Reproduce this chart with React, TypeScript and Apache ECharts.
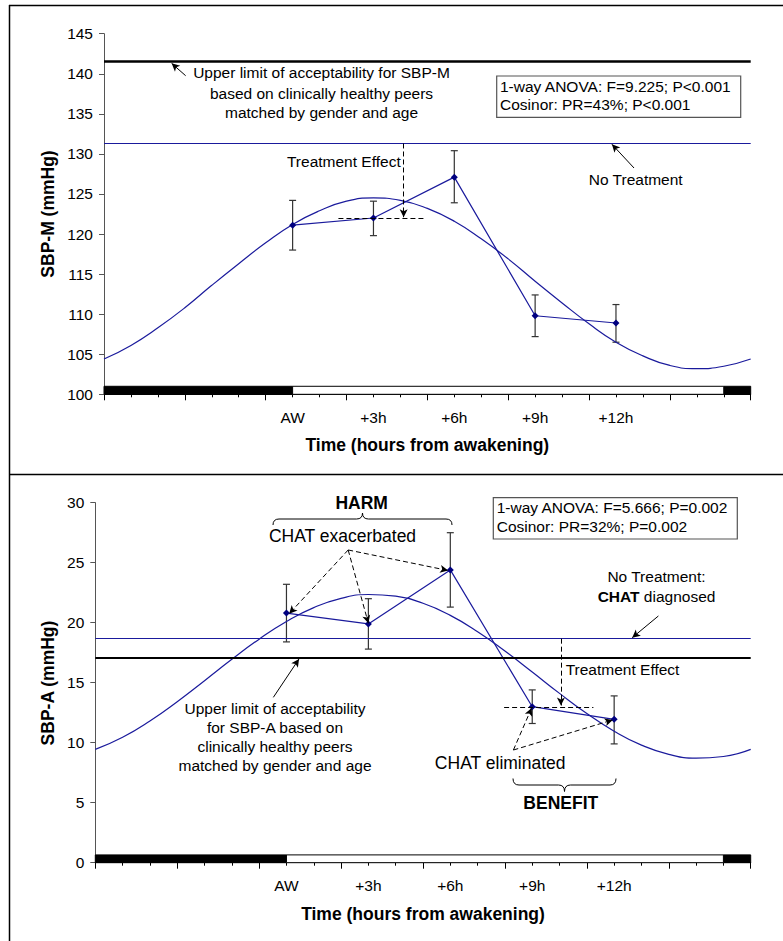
import React, { useEffect, useRef } from "react";
import * as echarts from "echarts";

// ---------- data ----------
const timeLabels = ["AW", "+3h", "+6h", "+9h", "+12h"];
const timeHours = [7, 10, 13, 16, 19];

// SBP-M (top panel)
const sbpMMean = [121.1, 122.0, 127.1, 109.8, 108.9];
const sbpMLow = [118.0, 119.8, 123.9, 107.2, 106.5];
const sbpMHigh = [124.2, 124.1, 130.4, 112.4, 111.2];
const curveHours = [0, 1, 2, 3, 4, 5, 6, 7, 8, 9, 10, 11, 12, 13, 14, 15, 16, 17, 18, 19, 20, 21, 22, 23, 24];
const sbpMCosinor = [104.4, 106.1, 108.3, 110.8, 113.6, 116.3, 118.9, 121.2, 122.9, 124.1, 124.5, 124.2, 123.2, 121.6, 119.4, 116.9, 114.1, 111.4, 108.8, 106.5, 104.8, 103.6, 103.2, 103.5, 104.4];
const sbpMUpperLimit = 141.6;
const sbpMNoTreatment = 131.3;

// SBP-A (bottom panel)
const sbpAMean = [20.8, 19.9, 24.4, 13.0, 11.95];
const sbpALow = [18.4, 17.8, 21.3, 11.6, 9.9];
const sbpAHigh = [23.2, 22.0, 27.5, 14.4, 13.9];
const sbpACosinor = [9.44, 10.45, 11.81, 13.42, 15.17, 16.95, 18.63, 20.1, 21.26, 22.03, 22.35, 22.21, 21.62, 20.61, 19.25, 17.64, 15.89, 14.11, 12.43, 10.96, 9.8, 9.03, 8.71, 8.85, 9.44];
const sbpAUpperLimit = 17.05;
const sbpANoTreatment = 18.67;

// sleep / wake bar (hours on axis)
const sleepSpans = [[0, 7], [23, 24]];
const wakeSpans = [[7, 23]];

// y axis ranges
const yTopRange = [100, 145];
const yBottomRange = [0, 30];

// ---------- styles ----------
const FONT = "'Liberation Sans', Arial, Helvetica, sans-serif";
const NAVY = "#000080";
const BLUE_LINE = "#1a1a9c";

const labelMap: Record<number, string> = {};
timeHours.forEach((h, i) => (labelMap[h] = timeLabels[i]));

function xAxesFor(gi: number) {
  return [
    {
      type: "value", gridIndex: gi, min: 0, max: 24, interval: 3, position: "bottom",
      axisLine: { show: true, lineStyle: { color: "#000", width: 1 } },
      axisTick: { show: true, length: 6, lineStyle: { color: "#000" } },
      minorTick: { show: true, splitNumber: 3, length: 3, lineStyle: { color: "#000" } },
      axisLabel: { show: false }, splitLine: { show: false },
    },
    {
      type: "value", gridIndex: gi, min: 0, max: 24, interval: 1, position: "bottom",
      axisLine: { show: false }, axisTick: { show: false }, splitLine: { show: false },
      axisLabel: {
        show: true, margin: 15, fontSize: 15.5, fontFamily: FONT, color: "#000",
        formatter: (v: number) => labelMap[v] ?? "",
      },
    },
  ];
}

function yAxisFor(gi: number, range: number[]) {
  return {
    type: "value", gridIndex: gi, min: range[0], max: range[1], interval: 5,
    axisLine: { show: true, lineStyle: { color: "#555", width: 1 } },
    axisTick: { show: true, length: 5, lineStyle: { color: "#555" } },
    axisLabel: { fontSize: 15.5, fontFamily: FONT, color: "#000", margin: 11 },
    splitLine: { show: false },
  };
}

function seriesFor(gi: number, mean: number[], low: number[], high: number[], curve: number[], upper: number, noTreat: number, barTop: number, upperWidth: number, base: number) {
  const xi = gi * 2;
  const barAreas = [
    ...sleepSpans.map(([a, b]) => [
      { xAxis: a, yAxis: base, itemStyle: { color: "#000", borderColor: "#000", borderWidth: 1 } },
      { xAxis: b, yAxis: barTop },
    ]),
    ...wakeSpans.map(([a, b]) => [
      { xAxis: a, yAxis: base, itemStyle: { color: "#fff", borderColor: "#000", borderWidth: 1 } },
      { xAxis: b, yAxis: barTop },
    ]),
  ];
  return [
    {
      type: "line", xAxisIndex: xi, yAxisIndex: gi, data: [], silent: true,
      markArea: { silent: true, data: barAreas, label: { show: false }, emphasis: { disabled: true } },
      markLine: {
        silent: true, symbol: ["none", "none"], label: { show: false }, emphasis: { disabled: true },
        data: [
          { yAxis: upper, lineStyle: { color: "#000", width: upperWidth, type: "solid" } },
          { yAxis: noTreat, lineStyle: { color: BLUE_LINE, width: 1.2, type: "solid" } },
        ],
      },
    },
    {
      type: "line", xAxisIndex: xi, yAxisIndex: gi, smooth: true, showSymbol: false, silent: true,
      data: curveHours.map((h, i) => [h, curve[i]]),
      lineStyle: { color: BLUE_LINE, width: 1.2 },
      emphasis: { disabled: true },
    },
    {
      type: "custom", xAxisIndex: xi, yAxisIndex: gi, silent: true,
      data: timeHours.map((h, i) => [h, low[i], high[i]]),
      encode: { x: 0, y: [1, 2] },
      renderItem: (params: any, api: any) => {
        const x = api.value(0);
        const pLo = api.coord([x, api.value(1)]);
        const pHi = api.coord([x, api.value(2)]);
        const w = 3.5;
        const st = { stroke: "#333", lineWidth: 1.2 };
        return {
          type: "group",
          children: [
            { type: "line", shape: { x1: pLo[0], y1: pLo[1], x2: pHi[0], y2: pHi[1] }, style: st },
            { type: "line", shape: { x1: pLo[0] - w, y1: pLo[1], x2: pLo[0] + w, y2: pLo[1] }, style: st },
            { type: "line", shape: { x1: pHi[0] - w, y1: pHi[1], x2: pHi[0] + w, y2: pHi[1] }, style: st },
          ],
        };
      },
    },
    {
      type: "line", xAxisIndex: xi, yAxisIndex: gi, silent: true,
      data: timeHours.map((h, i) => [h, mean[i]]),
      symbol: "diamond", symbolSize: 7, showSymbol: true,
      itemStyle: { color: NAVY },
      lineStyle: { color: BLUE_LINE, width: 1.2 },
      emphasis: { disabled: true },
    },
  ];
}

// annotation line segments in axis units: [x1, y1, x2, y2]
function annSeries(gi: number, segs: number[][], dashed: boolean, arrow: boolean) {
  return {
    type: "line", xAxisIndex: gi * 2, yAxisIndex: gi, data: [], silent: true,
    markLine: {
      silent: true,
      symbol: ["none", arrow ? "arrow" : "none"],
      symbolSize: [6, 8],
      label: { show: false },
      emphasis: { disabled: true },
      lineStyle: { color: "#000", width: 1, type: dashed ? [5, 3] : "solid" },
      data: segs.map(([x1, y1, x2, y2]) => [{ coord: [x1, y1] }, { coord: [x2, y2] }]),
    },
  };
}

function txt(text: string, x: number, y: number, align: string, size = 15.5, weight = "normal", extra: any = {}) {
  return {
    type: "text", x, y, silent: true, ...extra,
    style: {
      text, fill: "#000", fontSize: size, fontWeight: weight, fontFamily: FONT,
      textAlign: align, align, textVerticalAlign: "middle", verticalAlign: "middle",
    },
  };
}

export default function App() {
  const ref = useRef<HTMLDivElement>(null);
  useEffect(() => {
    document.body.style.margin = "0";
    if (!ref.current) return;
    try {
      echarts.graphic.registerShape(
        "braceUp",
        echarts.graphic.extendPath("M0,12 Q0,6 6,6 L83.5,6 Q89.5,6 89.5,0 Q89.5,6 95.5,6 L173,6 Q179,6 179,12", {})
      );
      echarts.graphic.registerShape(
        "braceDown",
        echarts.graphic.extendPath("M0,0 Q0,6.5 6,6.5 L45.5,6.5 Q51.5,6.5 51.5,13 Q51.5,6.5 57.5,6.5 L97,6.5 Q103,6.5 103,0", {})
      );
    } catch (e) {}
    const chart = echarts.init(ref.current, undefined, { renderer: "svg" });
    const option: any = {
      animation: false,
      backgroundColor: "#fff",
      grid: [
        { left: 104, top: 33.7, width: 646.7, height: 360.6, containLabel: false },
        { left: 95.3, top: 502.7, width: 655.4, height: 360, containLabel: false },
      ],
      xAxis: [...xAxesFor(0), ...xAxesFor(1)],
      yAxis: [yAxisFor(0, yTopRange), yAxisFor(1, yBottomRange)],
      series: [
        ...seriesFor(0, sbpMMean, sbpMLow, sbpMHigh, sbpMCosinor, sbpMUpperLimit, sbpMNoTreatment, 101, 2.5, 100),
        ...seriesFor(1, sbpAMean, sbpALow, sbpAHigh, sbpACosinor, sbpAUpperLimit, sbpANoTreatment, 0.65, 1.8, 0),
        // top annotations
        annSeries(0, [[11.12, sbpMNoTreatment, 11.12, 122.1]], true, true),
        annSeries(0, [[8.7, 122, 11.9, 122]], true, false),
        annSeries(0, [[3.03, 139.76, 2.51, 141.3], [19.67, 128.24, 18.85, 131.2]], false, true),
        // bottom annotations
        annSeries(1, [[17.05, sbpANoTreatment, 17.05, 13.1]], true, true),
        annSeries(1, [[14.97, 12.98, 18.24, 12.98]], true, false),
        annSeries(1, [
          [9.26, 26.06, 7.1, 20.75], [9.26, 26.06, 10.0, 19.95], [9.26, 26.06, 12.92, 24.35],
          [15.31, 9.39, 15.98, 12.9], [15.31, 9.39, 18.95, 11.9],
        ], true, true),
        annSeries(1, [[20.62, 20.56, 19.66, 18.75], [6.52, 13.78, 7.46, 16.98]], false, true),
      ],
      graphic: [
        // frame
        { type: "line", silent: true, shape: { x1: 9.5, y1: 5, x2: 9.5, y2: 941 }, style: { stroke: "#000", lineWidth: 1.5 } },
        { type: "line", silent: true, shape: { x1: 9, y1: 5.5, x2: 783, y2: 5.5 }, style: { stroke: "#000", lineWidth: 1.5 } },
        { type: "line", silent: true, shape: { x1: 9, y1: 474.5, x2: 783, y2: 474.5 }, style: { stroke: "#000", lineWidth: 1.5 } },
        // axis titles
        txt("SBP-M (mmHg)", 48.3, 214, "center", 17.5, "bold", { rotation: Math.PI / 2 }),
        txt("SBP-A (mmHg)", 48.3, 683, "center", 17.5, "bold", { rotation: Math.PI / 2 }),
        txt("Time (hours from awakening)", 427.3, 445, "center", 17.5, "bold"),
        txt("Time (hours from awakening)", 423, 914, "center", 17.5, "bold"),
        // top panel texts
        txt("Upper limit of acceptability for SBP-M", 321.5, 72.5, "center"),
        txt("based on clinically healthy peers", 321.5, 93, "center"),
        txt("matched by gender and age", 321.5, 112.5, "center"),
        txt("Treatment Effect", 400.7, 161, "right"),
        txt("No Treatment", 635.7, 179, "center"),
        { type: "rect", silent: true, shape: { x: 496.7, y: 76, width: 244, height: 41.3 }, style: { fill: "#fff", stroke: "#555", lineWidth: 1.2 } },
        txt("1-way ANOVA: F=9.225; P<0.001", 500, 86, "left"),
        txt("Cosinor: PR=43%; P<0.001", 500, 104.5, "left"),
        // bottom panel texts
        txt("HARM", 361.7, 503, "center", 17.5, "bold"),
        { type: "braceUp", silent: true, x: 273, y: 513, style: { fill: "none", stroke: "#000", lineWidth: 1 } },
        txt("CHAT exacerbated", 342.5, 535.5, "center", 17.5),
        { type: "rect", silent: true, shape: { x: 493.3, y: 497.7, width: 244, height: 41.3 }, style: { fill: "#fff", stroke: "#555", lineWidth: 1.2 } },
        txt("1-way ANOVA: F=5.666; P=0.002", 496.7, 507.7, "left"),
        txt("Cosinor: PR=32%; P=0.002", 496.7, 526.7, "left"),
        txt("No Treatment:", 656.5, 576.7, "center"),
        {
          type: "text", x: 656.5, y: 596.7, silent: true,
          style: {
            text: "{b|CHAT} diagnosed", fill: "#000", fontSize: 15.5, fontFamily: FONT,
            textAlign: "center", align: "center", textVerticalAlign: "middle", verticalAlign: "middle",
            rich: { b: { fontWeight: "bold", fontSize: 15.5, fontFamily: FONT, fill: "#000" } },
          },
        },
        txt("Treatment Effect", 565.7, 669, "left"),
        txt("Upper limit of acceptability", 275, 708.3, "center"),
        txt("for SBP-A based on", 275, 727, "center"),
        txt("clinically healthy peers", 275, 746.3, "center"),
        txt("matched by gender and age", 275, 765.7, "center"),
        txt("CHAT eliminated", 500.2, 762.7, "center", 17.5),
        { type: "braceDown", silent: true, x: 513, y: 778.5, style: { fill: "none", stroke: "#000", lineWidth: 1 } },
        txt("BENEFIT", 560.8, 803.3, "center", 17.5, "bold"),
      ],
    };
    chart.setOption(option);
    return () => chart.dispose();
  }, []);
  return <div ref={ref} style={{ width: 783, height: 941 }} />;
}
